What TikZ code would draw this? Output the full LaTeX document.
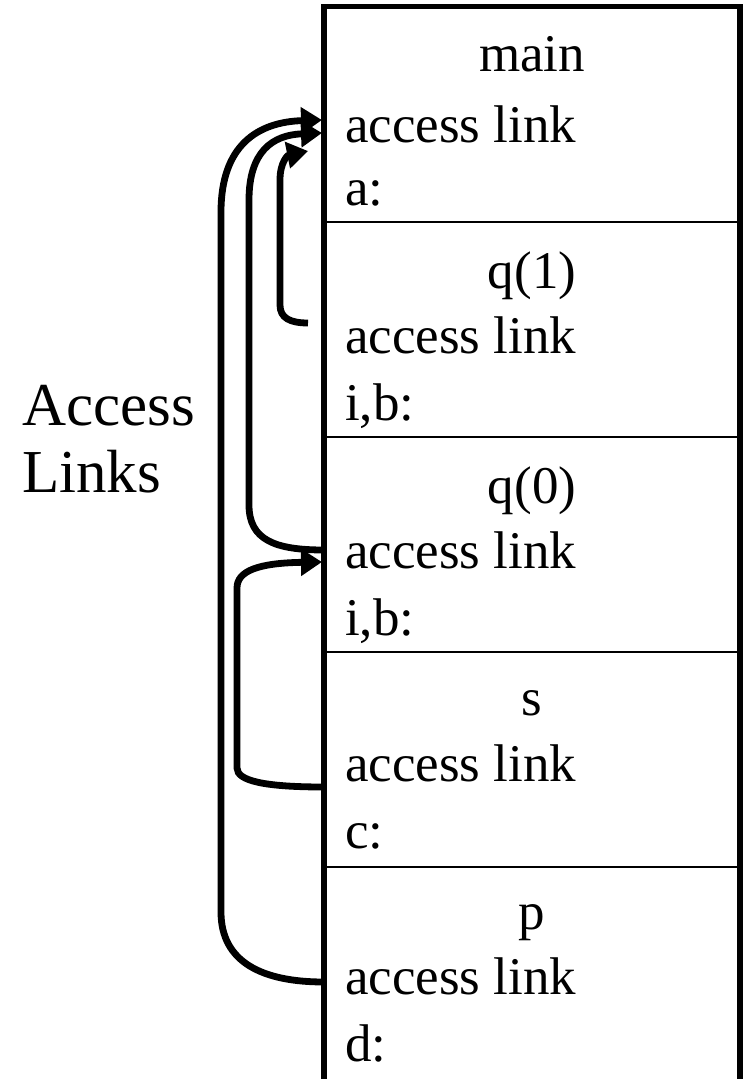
\documentclass[tikz,border=0pt]{standalone}
\usepackage{fontspec}
\setmainfont{Liberation Serif}
\usetikzlibrary{arrows.meta}
\begin{document}
\begin{tikzpicture}[x=1pt,y=-1pt,
  frame/.style={line width=5.5pt},
  divider/.style={line width=2pt},
  celltext/.style={font=\fontsize{53}{60}\selectfont, inner sep=0pt, anchor=base west},
  frametitle/.style={font=\fontsize{53}{60}\selectfont, inner sep=0pt, anchor=base},
  caption/.style={font=\fontsize{61}{67}\selectfont, inner sep=0pt, anchor=base west},
  link/.style={line width=6.8pt, -{Triangle[length=21pt,width=26pt]}}]
  \useasboundingbox (0,0) rectangle (743,1079);

  % stack frame outline (open at the bottom, continues below)
  \draw[frame] (324,1090) -- (324,6.5) -- (740,6.5) -- (740,1090);
  % frame separators
  \foreach \y in {222,437,652,867}
    \draw[divider] (324,\y) -- (740,\y);

  % frame contents
  \node[frametitle] (tmain) at (532,71)  {main};
  \node[celltext]   (lmain) at (345,142) {access link};
  \node[celltext]   (vmain) at (345,205) {a:};

  \node[frametitle] (tq1) at (532,288) {q(1)};
  \node[celltext]   (lq1) at (345,353) {access link};
  \node[celltext]   (vq1) at (345,420) {i,b:};

  \node[frametitle] (tq0) at (532,503) {q(0)};
  \node[celltext]   (lq0) at (345,568) {access link};
  \node[celltext]   (vq0) at (345,635) {i,b:};

  \node[frametitle] (ts) at (532,715) {s};
  \node[celltext]   (ls) at (345,781) {access link};
  \node[celltext]   (vs) at (345,848) {c:};

  \node[frametitle] (tp) at (532,929) {p};
  \node[celltext]   (lp) at (345,994) {access link};
  \node[celltext]   (vp) at (345,1061) {d:};

  \node[caption] (cap1) at (22,425) {Access};
  \node[caption] (cap2) at (22,492) {Links};

  % link attachment points on the frame edge
  \coordinate (mainA) at (322,120);
  \coordinate (mainB) at (322,133);
  \coordinate (mainC) at (308,151);
  \coordinate (q0in)  at (322,562);
  \coordinate (q1out) at (308,323);
  \coordinate (q0out) at (324,550);
  \coordinate (sout)  at (324,787);
  \coordinate (pout)  at (324,982);

  % access links
  \draw[link] (pout) .. controls (262,982) and (221,962) .. (221,912)
     -- (221,212) .. controls (221,145) and (258,122) .. (mainA);
  \draw[link] (q0out) .. controls (275,550) and (249,540) .. (249,505)
     -- (249,200) .. controls (249,152) and (272,135) .. (mainB);
  \draw[link] (q1out) .. controls (290,323) and (280,318) .. (280,305)
     -- (280,180) .. controls (280,162) and (288,155) .. (mainC);
  \draw[link] (sout) .. controls (265,787) and (237,781) .. (237,768)
     -- (237,588) .. controls (237,571) and (258,563) .. (q0in);
\end{tikzpicture}
\end{document}
